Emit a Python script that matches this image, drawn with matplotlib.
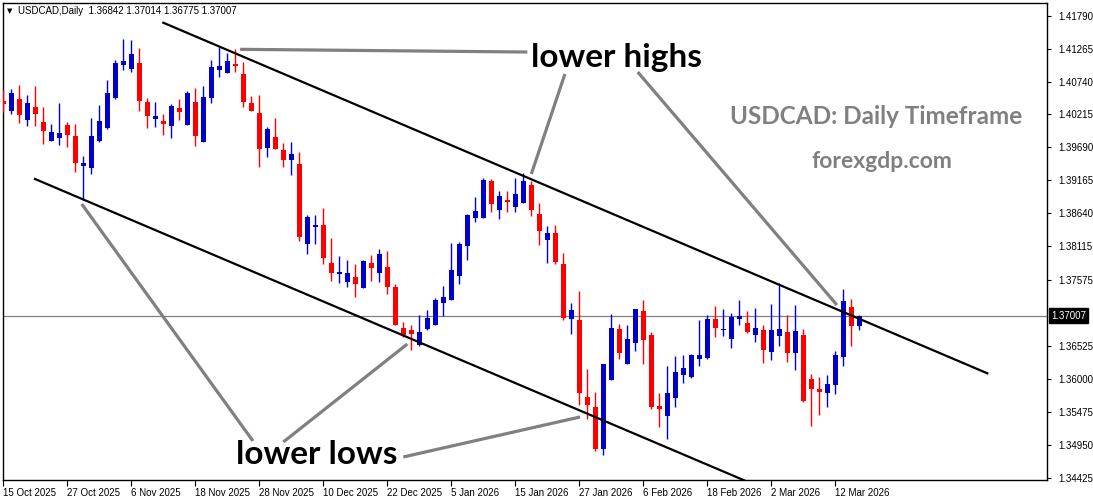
"""
Script plots USDCAD daily candles with a descending channel (MT4 style)
"""

import numpy as np
import matplotlib.pyplot as plt

### ---------------- data ---------------- ###
opens = [
    1.40430, 1.40276, 1.40462, 1.40132, 1.40335, 1.40095, 1.39797, 1.39840, 1.40048, 1.39872,
    1.39399, 1.39367, 1.39797, 1.40000, 1.40478, 1.41009, 1.40945, 1.41036, 1.40414, 1.40148,
    1.40111, 1.40036, 1.40319, 1.40052, 1.40414, 1.39781, 1.40483, 1.40929, 1.40881, 1.41020,
    1.40861, 1.40398, 1.40239, 1.39686, 1.39856, 1.39649, 1.39494, 1.39426, 1.38155, 1.38426,
    1.38453, 1.37848, 1.37677, 1.37549, 1.37624, 1.37449, 1.37848, 1.37693, 1.37784, 1.37465,
    1.36811, 1.36779, 1.36545, 1.36800, 1.36864, 1.37215, 1.37263, 1.37645, 1.38123, 1.38570,
    1.38570, 1.39155, 1.38697, 1.38852, 1.38745, 1.38809, 1.39091, 1.38629, 1.38219, 1.38326,
    1.37832, 1.36960, 1.36939, 1.35711, 1.35552, 1.34887, 1.35987, 1.36795, 1.36242, 1.36577,
    1.37082, 1.36700, 1.35568, 1.35413, 1.35700, 1.36067, 1.36035, 1.36322, 1.36338, 1.36955,
    1.36779, 1.36641, 1.36950, 1.36891, 1.36695, 1.36779, 1.36434, 1.36689, 1.36748, 1.36418,
    1.36700, 1.35998, 1.35839, 1.35780, 1.35907, 1.36354, 1.37146, 1.36842,
]
highs = [
    1.40606, 1.40622, 1.40685, 1.40526, 1.40674, 1.40335, 1.40064, 1.40398, 1.40091, 1.40064,
    1.39553, 1.40159, 1.40366, 1.40765, 1.41084, 1.41419, 1.41403, 1.41275, 1.40478, 1.40414,
    1.40223, 1.40382, 1.40462, 1.40590, 1.40637, 1.40669, 1.41084, 1.41296, 1.41195, 1.41254,
    1.41052, 1.40510, 1.40526, 1.40016, 1.40159, 1.39761, 1.39777, 1.39617, 1.38613, 1.38613,
    1.38724, 1.38246, 1.37959, 1.37895, 1.37832, 1.37895, 1.37975, 1.38071, 1.38039, 1.37513,
    1.36907, 1.36864, 1.37019, 1.37098, 1.37290, 1.37481, 1.38166, 1.38182, 1.38629, 1.38900,
    1.39203, 1.39187, 1.38995, 1.38995, 1.39203, 1.39282, 1.39155, 1.38804, 1.38437, 1.38453,
    1.38007, 1.37210, 1.37401, 1.36158, 1.35796, 1.36237, 1.37035, 1.36875, 1.36859, 1.37114,
    1.37258, 1.36748, 1.35775, 1.36206, 1.36365, 1.36381, 1.36397, 1.36939, 1.37019, 1.37162,
    1.37114, 1.37050, 1.37258, 1.37082, 1.37130, 1.36859, 1.37194, 1.37529, 1.37019, 1.37178,
    1.36795, 1.36083, 1.36030, 1.36062, 1.36449, 1.37433, 1.37274, 1.37014,
]
lows = [
    1.40260, 1.40223, 1.40084, 1.40036, 1.40036, 1.39749, 1.39797, 1.39729, 1.39702, 1.39303,
    1.38852, 1.39266, 1.39781, 1.39989, 1.40467, 1.40929, 1.40897, 1.40276, 1.40005, 1.40021,
    1.39893, 1.39845, 1.40132, 1.40052, 1.39718, 1.39781, 1.40403, 1.40818, 1.40881, 1.40897,
    1.40339, 1.40276, 1.39383, 1.39542, 1.39670, 1.39383, 1.39255, 1.38203, 1.37991, 1.38150,
    1.37836, 1.37565, 1.37534, 1.37470, 1.37310, 1.37449, 1.37565, 1.37549, 1.37358, 1.36864,
    1.36673, 1.36465, 1.36529, 1.36784, 1.36864, 1.37007, 1.37253, 1.37518, 1.37900, 1.38506,
    1.38570, 1.38665, 1.38554, 1.38665, 1.38665, 1.38809, 1.38602, 1.38139, 1.37852, 1.37836,
    1.36944, 1.36720, 1.35589, 1.35365, 1.34855, 1.34791, 1.35987, 1.36322, 1.36242, 1.36449,
    1.36242, 1.35525, 1.35238, 1.35047, 1.35557, 1.35939, 1.36019, 1.36210, 1.36322, 1.36673,
    1.36689, 1.36497, 1.36854, 1.36727, 1.36593, 1.36258, 1.36306, 1.36529, 1.36274, 1.36146,
    1.35636, 1.35254, 1.35429, 1.35557, 1.35764, 1.36210, 1.36529, 1.36775,
]
closes = [
    1.40387, 1.40563, 1.40212, 1.40398, 1.40228, 1.39957, 1.39936, 1.39920, 1.39893, 1.39446,
    1.39442, 1.39872, 1.40116, 1.40563, 1.41036, 1.41068, 1.41179, 1.40435, 1.40196, 1.40191,
    1.40068, 1.40350, 1.40260, 1.40558, 1.39877, 1.40494, 1.40972, 1.40988, 1.41068, 1.40993,
    1.40419, 1.40276, 1.39670, 1.39984, 1.39670, 1.39494, 1.39585, 1.38267, 1.38581, 1.38453,
    1.37932, 1.37693, 1.37704, 1.37688, 1.37518, 1.37879, 1.37773, 1.37991, 1.37470, 1.36864,
    1.36705, 1.36720, 1.36748, 1.36971, 1.37258, 1.37306, 1.37736, 1.38150, 1.38613, 1.38676,
    1.39171, 1.38793, 1.38916, 1.38825, 1.38948, 1.39155, 1.38697, 1.38363, 1.38326, 1.37868,
    1.36976, 1.37098, 1.35770, 1.35589, 1.34887, 1.36237, 1.36811, 1.36418, 1.36636, 1.37114,
    1.36625, 1.35557, 1.35525, 1.35775, 1.36110, 1.36174, 1.36381, 1.36381, 1.36955, 1.36816,
    1.36795, 1.36987, 1.37003, 1.36743, 1.36811, 1.36465, 1.36779, 1.36795, 1.36418, 1.36763,
    1.35652, 1.35844, 1.35796, 1.35919, 1.36381, 1.37242, 1.36848, 1.37007,
]

date_labels = [
    "15 Oct 2025", "27 Oct 2025", "6 Nov 2025", "18 Nov 2025", "28 Nov 2025",
    "10 Dec 2025", "22 Dec 2025", "5 Jan 2026", "15 Jan 2026", "27 Jan 2026",
    "6 Feb 2026", "18 Feb 2026", "2 Mar 2026", "12 Mar 2026",
]
price_ticks = [1.41790, 1.41265, 1.40740, 1.40215, 1.39690, 1.39165, 1.38640,
               1.38115, 1.37575, 1.36525, 1.36000, 1.35475, 1.34950, 1.34425]
last_price = 1.37007

# channel lines as (bar, price) anchors
upper_bars = [20.0, 123.0]
upper_prices = [1.41678, 1.36089]
lower_bars = [3.96, 95.0]
lower_prices = [1.39187, 1.34253]

# grey pointer lines (bar, price) pairs
highs_pointers = [
    ([29.6, 65.5], [1.41254, 1.41211]),
    ([70.2, 66.0], [1.40861, 1.39266]),
    ([79.3, 104.2], [1.40892, 1.37178]),
]
lows_pointers = [
    ([9.8, 31.2], [1.38788, 1.35010]),
    ([35.0, 50.5], [1.34994, 1.36556]),
    ([50.0, 72.1], [1.34755, 1.35393]),
]

BLUE = "#0000cd"
RED = "#ff0000"
GREY = "#808080"
SMALL = "Liberation Sans"

### ---------------- plotting ---------------- ###
W, H = 1093, 501
fig = plt.figure(figsize=(W / 100, H / 100), dpi=100)
ax = fig.add_axes([3 / W, (H - 480) / H, 1044 / W, 477 / H])

o = np.array(opens)
h = np.array(highs)
l = np.array(lows)
c = np.array(closes)
idx = np.arange(len(o))
up = c >= o
cols = np.where(up, BLUE, RED)

ax.vlines(idx, l, h, colors=cols, lw=1.0, zorder=3)
body_lo = np.minimum(o, c)
body_h = np.maximum(np.abs(c - o), 0.00017)
ax.bar(idx, body_h, bottom=body_lo, width=0.62, color=cols, lw=0, zorder=4)

# current price line
ax.axhline(last_price, color=GREY, lw=0.9, zorder=2)

# channel
ax.plot(upper_bars, upper_prices, color="black", lw=1.6, zorder=5)
ax.plot(lower_bars, lower_prices, color="black", lw=1.6, zorder=5)

for xs, ys in highs_pointers + lows_pointers:
    ax.plot(xs, ys, color=GREY, lw=2.3, solid_capstyle="butt", zorder=5)

big = dict(family=["Lato", "DejaVu Sans"], weight="bold", color="black",
           fontsize=24, ha="center", va="center", zorder=6)
ax.text(76.7, 1.41116, "lower highs", **big)
ax.text(39.2, 1.34787, "lower lows", **big)

wm = dict(family=["Lato", "DejaVu Sans"], weight="bold", color=GREY,
          ha="center", va="center", transform=fig.transFigure)
fig.text(876 / W, 1 - 117 / H, "USDCAD: Daily Timeframe", fontsize=17.5, **wm)
fig.text(882 / W, 1 - 162 / H, "forexgdp.com", fontsize=16.5, **wm)

# header
fig.text(7 / W, 1 - 11 / H, "\u25bc", fontsize=5, va="center", ha="left")
fig.text(18 / W, 1 - 11 / H, "USDCAD,Daily  1.36842 1.37014 1.36775 1.37007",
         fontsize=7, family=SMALL, va="center", ha="left")

# axes styling
ax.set_xlim(-0.04, 130.46)
ax.set_ylim(1.34388, 1.419925)
for sp in ax.spines.values():
    sp.set_color("black")
    sp.set_linewidth(1.0)

ax.set_xticks(np.arange(len(date_labels)) * 8)
ax.set_xticklabels(date_labels, fontsize=7, family=SMALL)
plt.setp(ax.get_xticklabels(), ha="left")
ax.tick_params(axis="x", direction="out", length=4, width=0.8, pad=2)

ax.yaxis.tick_right()
ax.set_yticks(price_ticks)
ax.set_yticklabels(["{:.5f}".format(p) for p in price_ticks], fontsize=7, family=SMALL)
ax.tick_params(axis="y", direction="out", length=3, width=0.8, pad=5)

# last price tag on the axis
ax.annotate("{:.5f}".format(last_price), xy=(1.0, last_price),
            xycoords=("axes fraction", "data"), xytext=(3, 0),
            textcoords="offset points", va="center", ha="left",
            fontsize=7, family=SMALL, color="white", annotation_clip=False,
            bbox=dict(boxstyle="square,pad=0.25", fc="black", ec="black"))

fig.savefig("out.png", dpi=100, facecolor="w")
